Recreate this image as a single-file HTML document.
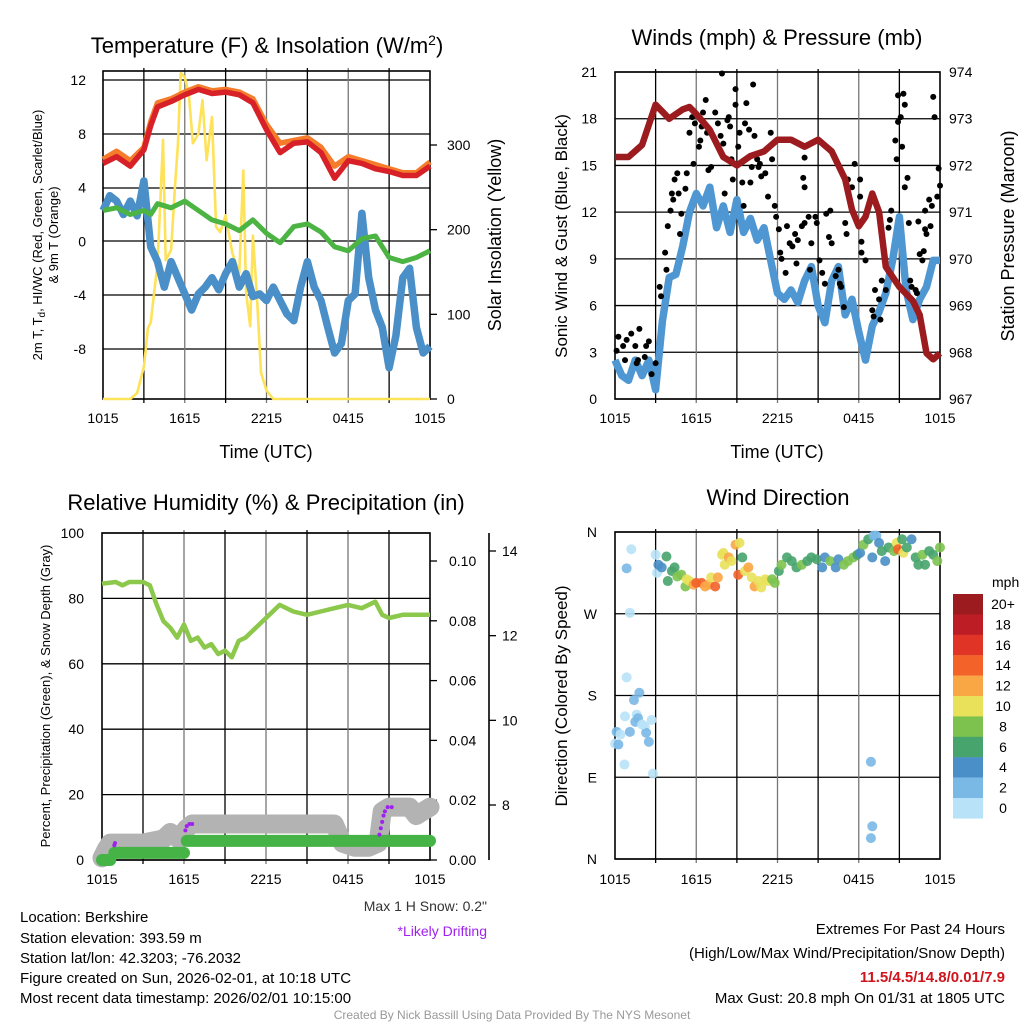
<!DOCTYPE html>
<html><head><meta charset="utf-8"><style>
html,body{margin:0;padding:0;background:#fff;}
svg{display:block;font-family:"Liberation Sans",Arial,sans-serif;}
</style></head><body>
<svg id="c" width="1024" height="1024" viewBox="0 0 1024 1024" xmlns="http://www.w3.org/2000/svg">
<rect width="1024" height="1024" fill="#fff"/>
<g id="p1"></g>
<g id="p2"></g>
<g id="p3"></g>
<g id="p4"></g>
<g id="txt" font-size="14" fill="#000">
<text x="267" y="53" font-size="22" text-anchor="middle">Temperature (F) &amp; Insolation (W/m<tspan dy="-8" font-size="14">2</tspan><tspan dy="8">)</tspan></text>
<text x="777" y="45" font-size="22" text-anchor="middle">Winds (mph) &amp; Pressure (mb)</text>
<text x="266" y="510" font-size="22" text-anchor="middle">Relative Humidity (%) &amp; Precipitation (in)</text>
<text x="778" y="505" font-size="22" text-anchor="middle">Wind Direction</text>
<text x="266" y="458" font-size="18" text-anchor="middle">Time (UTC)</text>
<text x="777" y="458" font-size="18" text-anchor="middle">Time (UTC)</text>
<text transform="translate(42,235) rotate(-90)" font-size="13" text-anchor="middle">2m T, T<tspan font-size="10" dy="3">d</tspan><tspan dy="-3">, HI/WC (Red, Green, Scarlet/Blue)</tspan></text>
<text transform="translate(58,235) rotate(-90)" font-size="13" text-anchor="middle">&amp; 9m T (Orange)</text>
<text transform="translate(501,235) rotate(-90)" font-size="18" text-anchor="middle">Solar Insolation (Yellow)</text>
<text transform="translate(567,236) rotate(-90)" font-size="17" text-anchor="middle">Sonic Wind &amp; Gust (Blue, Black)</text>
<text transform="translate(1014,236) rotate(-90)" font-size="18" text-anchor="middle">Station Pressure (Maroon)</text>
<text transform="translate(50,696) rotate(-90)" font-size="13" text-anchor="middle">Percent, Precipitation (Green), &amp; Snow Depth (Gray)</text>
<text transform="translate(567,696) rotate(-90)" font-size="17" text-anchor="middle">Direction (Colored By Speed)</text>
<text x="487" y="911" font-size="14" fill="#333" text-anchor="end">Max 1 H Snow: 0.2"</text>
<text x="487" y="936" font-size="14" fill="#a020f0" text-anchor="end">*Likely Drifting</text>
<g font-size="15">
<text x="20" y="922">Location: Berkshire</text>
<text x="20" y="943">Station elevation: 393.59 m</text>
<text x="20" y="963">Station lat/lon: 42.3203; -76.2032</text>
<text x="20" y="983">Figure created on Sun, 2026-02-01, at 10:18 UTC</text>
<text x="20" y="1003">Most recent data timestamp: 2026/02/01 10:15:00</text>
</g>
<g font-size="15" text-anchor="end">
<text x="1005" y="934">Extremes For Past 24 Hours</text>
<text x="1005" y="958">(High/Low/Max Wind/Precipitation/Snow Depth)</text>
<text x="1005" y="982" fill="#d0141c" font-weight="bold">11.5/4.5/14.8/0.01/7.9</text>
<text x="1005" y="1003">Max Gust: 20.8 mph On 01/31 at 1805 UTC</text>
</g>
<text x="512" y="1019" font-size="12" fill="#999" text-anchor="middle">Created By Nick Bassill Using Data Provided By The NYS Mesonet</text>
</g>
</svg>
<script>
// ---------- data ----------
const timeLabels = ["1015","1615","2215","0415","1015"];
const hoursHourly = [0,1,2,3,3.5,4,5,6,7,8,9,10,11,12,13,14,15,16,17,18,19,20,21,22,23,24];
const tempRed =    [5.8,6.3,5.6,6.8,8.6,10.0,10.4,10.9,11.3,11.0,11.1,10.9,10.3,8.3,6.6,7.3,7.4,6.6,4.7,6.0,5.8,5.4,5.2,4.9,4.9,5.6];
const tempOrange = [6.1,6.7,6.0,7.0,8.9,10.3,10.6,11.1,11.5,11.2,11.3,11.1,10.6,8.7,7.3,7.5,7.7,7.0,5.6,6.3,6.0,5.7,5.4,5.1,5.1,5.9];
const dewGreen =   [2.3,2.5,2.0,2.3,2.0,2.8,2.5,3.0,2.3,1.6,1.3,0.8,1.6,0.6,-0.1,1.1,1.3,0.7,-0.4,-0.7,0.2,0.4,-1.2,-1.5,-1.2,-0.7];
const hoursHalf = [0,0.5,1,1.5,2,2.5,3,3.5,4,4.5,5,5.5,6,6.5,7,7.5,8,8.5,9,9.5,10,10.5,11,11.5,12,12.5,13,13.5,14,14.5,15,15.5,16,16.5,17,17.5,18,18.5,19,19.5,20,20.5,21,21.5,22,22.5,23,23.5,24];
const windChillBlue = [2.3,3.4,3.0,2.0,3.0,1.9,4.5,-0.4,-1.5,-3.4,-1.5,-2.7,-3.9,-5.1,-3.9,-3.4,-2.7,-3.6,-2.4,-1.5,-3.4,-2.4,-4.1,-3.9,-4.4,-3.4,-4.4,-5.4,-5.9,-3.4,-1.5,-3.4,-4.4,-6.4,-8.3,-7.6,-4.4,-3.9,2.1,-2.7,-5.1,-6.4,-9.4,-7.0,-2.7,-2.0,-6.4,-8.3,-7.8];
const solarH = [0,2,2.5,3,3.3,3.5,4,4.2,4.4,4.6,5,5.3,5.5,5.7,6,6.3,6.6,7,7.3,7.6,8,8.3,8.6,9,9.5,10,10.3,10.5,10.8,11,11.3,11.6,12,12.5,24];
const solarW = [0,0,7,38,84,90,160,230,306,164,176,255,300,385,380,360,302,313,353,282,333,203,197,217,172,149,270,126,86,193,120,31,10,0,0];
const tempTicks = [12,8,4,0,-4,-8];
const solarTicks = [0,100,200,300];

const windSonic = [2.5,1.5,1.2,2.5,1.5,2.5,0.6,5.0,7.8,8.0,9.8,12.0,13.2,12.4,13.6,11.0,12.4,10.7,12.8,10.7,11.6,10.2,11.0,8.9,6.8,6.4,7.0,6.2,7.6,8.5,6.0,4.9,7.6,8.5,5.4,6.4,4.3,2.5,4.7,5.6,6.8,8.9,11.7,7.0,5.1,6.4,7.2,8.9,8.9];
const pressH = [0,1,2,3,4,5,5.5,6,7,8,9,10,11,12,13,14,15,16,17,17.5,18,18.5,19,19.5,20,21,22,22.5,23,23.5,24];
const pressMb = [972.18,972.18,972.44,973.3,973.0,973.2,973.25,973.1,972.76,972.18,972.0,972.2,972.3,972.55,972.55,972.4,972.55,972.3,971.7,971.05,970.7,970.9,971.4,971.0,969.83,969.4,969.1,968.8,967.98,967.85,967.98];
const gustH = [0.12,0.25,0.6,0.86,1.2,1.5,1.7,1.8,2.2,2.3,2.5,2.7,3.0,0.74,1.6,3.3,3.4,3.7,3.8,3.9,4.1,4.2,4.3,4.4,4.6,4.7,4.8,4.9,5.2,5.3,5.5,5.8,5.7,5.9,6.2,6.3,6.4,6.5,6.7,6.8,6.9,7.1,7.4,7.6,7.8,7.9,8.0,8.1,8.3,8.4,8.5,8.6,8.7,8.9,8.9,9.1,9.2,9.4,9.5,9.6,9.7,9.9,10.0,10.1,10.2,10.3,10.5,10.6,10.7,10.8,11.1,11.3,11.5,11.6,11.8,11.9,12.1,12.2,12.3,12.6,12.7,12.9,13.1,13.3,13.4,13.5,13.8,14.0,14.0,13.9,14.0,14.3,14.4,14.5,14.8,14.9,15.1,15.3,15.5,15.6,15.8,15.9,16.0,16.3,16.5,16.6,16.7,16.9,17.0,17.1,17.2,17.5,17.7,18.1,18.1,18.2,18.2,18.5,19.0,19.1,19.2,19.5,19.6,19.7,20.0,20.2,20.3,20.4,20.7,20.8,20.9,20.9,21.1,21.2,21.3,21.4,21.4,21.6,21.7,21.8,21.9,22.2,22.3,22.4,22.5,22.7,22.8,22.9,22.9,23.0,23.2,23.3,23.4,23.5,23.6,23.8,23.9,24.0];
const gustMph = [3.1,4.0,3.4,3.8,4.2,3.4,2.5,4.5,2.7,3.4,3.7,1.6,2.3,2.5,2.3,7.2,6.6,9.4,8.3,11.1,12.1,13.2,12.8,14.1,14.5,13.2,10.6,11.9,13.5,14.5,17.1,15.1,18.1,17.7,16.2,16.6,17.5,18.4,19.2,17.1,14.7,14.9,18.4,17.7,16.9,20.9,16.4,13.2,17.9,18.1,17.5,15.4,14.1,19.9,18.9,16.2,17.1,13.9,12.4,17.7,19.0,17.3,13.9,14.9,20.2,16.9,15.4,14.9,15.1,14.3,14.5,13.0,17.1,15.4,12.4,11.7,10.9,9.4,9.0,8.1,11.1,10.0,9.8,10.6,8.7,10.2,11.1,11.3,15.5,14.2,13.6,11.7,8.3,10.0,11.7,11.3,8.9,8.1,7.4,11.9,10.4,12.1,10.0,7.9,8.3,7.4,7.2,5.9,11.3,10.6,14.1,13.6,15.1,13.0,14.1,10.1,9.4,8.9,5.7,5.3,7.0,6.4,5.1,7.6,7.0,11.0,11.5,12.1,16.6,15.4,17.8,19.5,18.1,16.2,19.6,18.9,13.6,14.2,11.3,7.6,7.2,7.0,6.8,11.4,9.3,8.9,9.5,12.1,10.9,10.6,12.8,11.1,12.4,19.4,18.1,13.0,14.8,13.7];
const windTicks = [0,3,6,9,12,15,18,21];
const pressTicks = [967,968,969,970,971,972,973,974];

const rhH = [0,1,1.5,2,3,3.5,4,4.5,5,5.5,6,6.5,7,7.5,8,8.5,9,9.5,10,10.5,11,12,13,14,15,16,17,18,19,20,20.5,21,22,23,24];
const rhPct = [84.5,85,84,85,85,84,78,73,71,68,72,67,68,65,66,63,64,62,67,68,70,74,78,76,75,76,77,78,77,79,75,74,75,75,75];
const snowH = [0,0.3,0.6,3,4.5,5,5.6,6.2,6.6,11,17,17.6,18.5,19.5,20.2,20.5,21,22.5,23,24];
const snowIn = [6.75,6.95,7.1,7.1,7.2,7.35,7.2,7.45,7.55,7.55,7.55,7.1,7.0,7.0,7.1,7.85,7.95,7.95,7.75,7.95];
const precipH = [[0,0.6],[0.9,6.0],[6.2,24]];
const precipIn = [0,0.0024,0.0064];
const driftH = [0.9,0.95,6.1,6.2,6.4,6.6,20.3,20.4,20.5,20.6,20.7,20.9,21.2];
const driftIn = [7.05,7.1,7.4,7.5,7.55,7.55,7.3,7.45,7.6,7.75,7.85,7.95,7.95];
const rhTicks = [0,20,40,60,80,100];
const precipTicks = [0,0.02,0.04,0.06,0.08,0.10];
const snowTicks = [8,10,12,14];

const dirH = [-0.1,0.12,0.4,0.25,0.74,0.86,1.2,1.1,0.86,1.4,1.6,1.7,1.8,2.2,2.3,2.5,2.7,2.8,0.7,1.1,1.5,2.0,3.0,3.1,
 3.2,3.45,3.8,3.9,4.2,4.4,4.6,4.9,5.2,5.3,
 5.5,5.8,6.0,6.4,6.65,6.9,7.1,7.4,7.6,7.9,8.0,8.1,8.4,8.6,8.9,9.1,9.2,9.4,9.6,9.85,10.1,10.3,10.6,10.8,11.1,11.3,11.6,11.8,
 12.1,12.3,12.7,13.05,13.4,13.8,14.2,14.5,14.9,15.3,15.5,15.9,16.3,16.5,16.9,17.2,17.6,17.9,
 18.1,18.35,18.7,19.1,19.3,19.5,19.0,19.7,19.95,20.2,20.6,20.8,20.9,21.2,21.3,21.55,21.9,22.2,22.4,22.7,22.9,23.2,23.5,23.8,24.0,
 18.9,19.0,18.9];
const dirDeg = [127,140,137,126,157,320,341,271,200,175,159,155,183,146,139,129,153,94,104,140,151,148,335,315,
 324,321,333,306,317,321,311,313,300,308,
 306,302,304,304,300,302,310,300,310,335,337,324,332,328,346,313,348,332,317,321,310,300,306,299,308,306,308,304,
 317,324,332,328,321,324,328,332,330,321,332,328,321,330,324,328,332,335,
 337,346,352,356,356,348,332,339,328,343,339,348,341,352,337,343,352,332,324,335,324,339,335,328,343,
 107,36,23];
const dirMph = [1,3,1,3,1,3,1,1,1,3,1,3,3,1,3,3,1,1,1,3,3,1,1,1,
 4,5,6,6,7,7,8,8,9,10,
 11,12,15,15,13,12,11,15,13,10,11,10,12,10,13,14,11,7,10,12,10,13,11,10,10,10,9,8,
 7,8,7,6,7,8,6,6,7,4,5,8,4,5,8,9,8,7,
 4,8,6,2,2,4,4,6,4,6,8,10,14,6,10,6,4,6,7,8,6,7,7,8,8,
 3,3,3];
const dirTicks = [0,90,180,270,360];
const dirTickLabels = ["N","E","S","W","N"];
const cbLabels = ["20+","18","16","14","12","10","8","6","4","2","0"];
const cbColors = ["#9b1b1e","#bd1e25","#e03426","#f26229","#f9a645","#e9e15a","#7dc24f","#47a46c","#4a8fc7","#7ab8e6","#b8e2f7"];

// ---------- helpers ----------
const NS = "http://www.w3.org/2000/svg";
function mk(parent, tag, attrs){ const e=document.createElementNS(NS,tag); for(const k in attrs) e.setAttribute(k,attrs[k]); parent.appendChild(e); return e; }
function linScale(d0,d1,r0,r1){ return v => r0 + (v-d0)*(r1-r0)/(d1-d0); }
function pathFrom(xs, ys, fx, fy){ return xs.map((h,i)=>(i?"L":"M")+fx(h).toFixed(1)+","+fy(ys[i]).toFixed(1)).join(""); }
function frame(g, x0,x1,y0,y1, hGrid, vGrid, fx){
  hGrid.forEach(y=>{ const l=mk(g,"line",{x1:x0,x2:x1,y1:y,y2:y,stroke:"#000","stroke-width":1.3});   });
  for(let h=3; h<24; h+=3){ const x=fx(h); const l=mk(g,"line",{x1:x,x2:x,y1:y0-3,y2:y1+4,stroke:(h%6===0)?"#777":"#000","stroke-width":1.3});   }
  const r=mk(g,"rect",{x:x0,y:y0,width:x1-x0,height:y1-y0,fill:"none",stroke:"#000","stroke-width":1.6});
   
}
function xLabels(g, fx, y){
  timeLabels.forEach((t,i)=>{ const e=mk(g,"text",{x:fx(i*6),y:y,"font-size":14,"text-anchor":"middle"}); e.textContent=t;   });
}
function yLabels(g, ticks, fy, x, anchor, fmt){
  ticks.forEach(v=>{ const e=mk(g,"text",{x:x,y:fy(v)+5,"font-size":14,"text-anchor":anchor}); e.textContent=fmt?fmt(v):v;   });
}
function ticksOn(g, x, ticks, fy, dir){
  ticks.forEach(v=>{ const y=fy(v); mk(g,"line",{x1:x,x2:x+dir*7,y1:y,y2:y,stroke:"#000","stroke-width":1.3}); });
}

// ---------- panel 1 ----------
(function(){
  const g=document.getElementById("p1");
  const fx=linScale(0,24,103,430), fy=linScale(12,-8,80,349), fs=linScale(0,300,399,145);
  frame(g,103,430,71,399,[80,134,188,241,295,349],[],fx);
  ticksOn(g,430,solarTicks,fs,1);
  const s=mk(g,"path",{d:pathFrom(solarH,solarW,fx,fs),fill:"none",stroke:"#fde25a","stroke-width":2.6,"stroke-linejoin":"round"});
   
  const b=mk(g,"path",{d:pathFrom(hoursHalf,windChillBlue,fx,fy),fill:"none",stroke:"#4a8fc7","stroke-width":7.5,"stroke-linejoin":"round"});
   
  const gr=mk(g,"path",{d:pathFrom(hoursHourly,dewGreen,fx,fy),fill:"none",stroke:"#4bb443","stroke-width":5,"stroke-linejoin":"round"});
   
  const o=mk(g,"path",{d:pathFrom(hoursHourly,tempOrange,fx,fy),fill:"none",stroke:"#f47c2b","stroke-width":5.5,"stroke-linejoin":"round"});
   
  const r=mk(g,"path",{d:pathFrom(hoursHourly,tempRed,fx,fy),fill:"none",stroke:"#d72027","stroke-width":5.5,"stroke-linejoin":"round"});
   
  yLabels(g,tempTicks,fy,86,"end");
  yLabels(g,solarTicks,fs,447,"start");
  xLabels(g,fx,423);
})();

// ---------- panel 2 ----------
(function(){
  const g=document.getElementById("p2");
  const fx=linScale(0,24,615,940), fy=linScale(0,21,399,72), fp=linScale(967,974,399,72);
  frame(g,615,940,72,399,windTicks.map(fy),[],fx);
  const b=mk(g,"path",{d:pathFrom(hoursHalf,windSonic,fx,fy),fill:"none",stroke:"#4f97d2","stroke-width":7.5,"stroke-linejoin":"round"});
   
  gustH.forEach((h,i)=>{ const c=mk(g,"circle",{cx:fx(h),cy:fy(gustMph[i]),r:3,fill:"#000"});
      });
  const p=mk(g,"path",{d:pathFrom(pressH,pressMb,fx,fp),fill:"none",stroke:"#9b1b1e","stroke-width":6.5,"stroke-linejoin":"round"});
   
  yLabels(g,windTicks,fy,597,"end");
  yLabels(g,pressTicks,fp,949,"start");
  xLabels(g,fx,423);
})();

// ---------- panel 3 ----------
(function(){
  const g=document.getElementById("p3");
  const fx=linScale(0,24,102,430), fy=linScale(0,100,860,533), fp=linScale(0,0.1,860,561), fsn=linScale(8,14,805,551);
  frame(g,102,430,533,860,rhTicks.map(fy),[],fx);
  ticksOn(g,430,precipTicks,fp,1);
  const ax=mk(g,"line",{x1:489,x2:489,y1:533,y2:860,stroke:"#000","stroke-width":1.6});  
  ticksOn(g,489,snowTicks,fsn,1);
  const sn=mk(g,"path",{d:pathFrom(snowH,snowIn,fx,fsn),fill:"none",stroke:"#b3b3b3","stroke-width":19,"stroke-linejoin":"round","stroke-linecap":"round"});
   
  precipH.forEach((seg,i)=>{ const l=mk(g,"line",{x1:fx(seg[0]),x2:fx(seg[1]),y1:fp(precipIn[i]),y2:fp(precipIn[i]),stroke:"#46b346","stroke-width":12,"stroke-linecap":"round"});
      });
  driftH.forEach((h,i)=>{ const c=mk(g,"circle",{cx:fx(h),cy:fsn(driftIn[i]),r:2,fill:"#a020f0"});
      });
  const rh=mk(g,"path",{d:pathFrom(rhH,rhPct,fx,fy),fill:"none",stroke:"#8cc84b","stroke-width":4.5,"stroke-linejoin":"round"});
   
  yLabels(g,rhTicks,fy,84,"end");
  yLabels(g,precipTicks,fp,449,"start",v=>v.toFixed(2));
  yLabels(g,snowTicks,fsn,502,"start");
  xLabels(g,fx,884);
})();

// ---------- panel 4 ----------
(function(){
  const g=document.getElementById("p4");
  const fx=linScale(0,24,615,940), fy=linScale(0,360,859,532);
  frame(g,615,940,532,859,dirTicks.map(fy),[],fx);
  function col(m){ return cbColors[Math.max(0,Math.min(10,10-Math.floor(m/2)))]; }
  dirH.forEach((h,i)=>{ const c=mk(g,"circle",{cx:fx(Math.max(0,h)),cy:fy(dirDeg[i]),r:5,fill:col(dirMph[i]),"fill-opacity":0.9});
      });
  dirTicks.forEach((d,i)=>{ const e=mk(g,"text",{x:597,y:fy(d)+5,"font-size":14,"text-anchor":"end"}); e.textContent=dirTickLabels[i];
      });
  xLabels(g,fx,884);
  const cb=mk(g,"g",{});  
  const u=mk(cb,"text",{x:992,y:587,"font-size":14}); u.textContent="mph";
  cbLabels.forEach((lab,i)=>{ const y=594+i*20.4;
    const r=mk(cb,"rect",{x:953,y:y,width:30,height:20.6,fill:cbColors[i]});
     
    const t=mk(cb,"text",{x:1003,y:y+15,"font-size":14,"text-anchor":"middle"}); t.textContent=lab;
      });
})();
</script>
</body></html>
